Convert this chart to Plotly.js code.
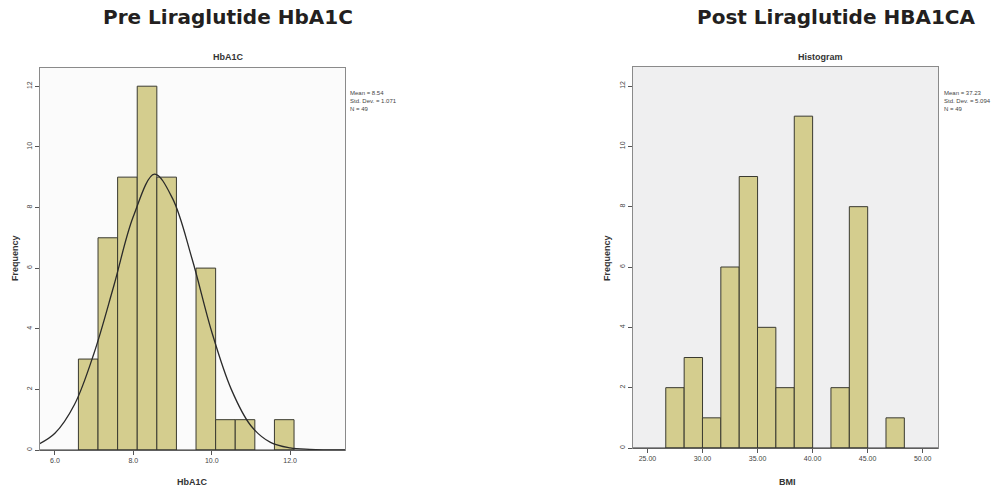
<!DOCTYPE html>
<html>
<head>
<meta charset="utf-8">
<script src="https://cdn.plot.ly/plotly-3.0.1.min.js"></script>
<style>html,body{margin:0;padding:0;background:#fff;}#chart{width:1008px;height:493px;}</style>
</head>
<body>
<div id="chart"></div>
<script>
// Pre Liraglutide HbA1C histogram (bin centres, width 0.5)
const preBinCenters = [6.85, 7.35, 7.85, 8.35, 8.85, 9.85, 10.35, 10.85, 11.85];
const preCounts     = [3, 7, 9, 12, 9, 6, 1, 1, 1];
const preBinWidth   = 0.5;
// Normal curve
const preCurveX = [5.6, 6.0, 6.5, 7.0, 7.5, 8.0, 8.54, 9.0, 9.5, 10.0, 10.5, 11.0, 11.5, 12.0, 12.5, 13.4];
const preCurveY = [0.2, 0.55, 1.5, 3.2, 5.4, 7.7, 9.1, 8.3, 6.3, 3.9, 2.0, 0.8, 0.25, 0.07, 0.02, 0.0];
const preStats  = ["Mean = 8.54", "Std. Dev. = 1.071", "N = 49"];

// Post Liraglutide histogram (BMI axis, bin width 5/3)
const postBinCenters = [27.5, 29.17, 30.83, 32.5, 34.17, 35.83, 37.5, 39.17, 42.5, 44.17, 47.5];
const postCounts     = [2, 3, 1, 6, 9, 4, 2, 11, 2, 8, 1];
const postBinWidth   = 5 / 3;
const postStats = ["Mean = 37.23", "Std. Dev. = 5.094", "N = 49"];

const yTicks = [0, 2, 4, 6, 8, 10, 12];
const preXTicks = [6, 8, 10, 12];
const postXTicks = [25, 30, 35, 40, 45, 50];

const barFill = '#d4cd8e';
const barLine = '#3a3a30';
const W = 1008, H = 493;
const px = v => v / W, py = v => 1 - v / H;

const traces = [
  {type: 'bar', x: preBinCenters, y: preCounts, width: preBinWidth,
   marker: {color: barFill, line: {color: barLine, width: 1}},
   xaxis: 'x', yaxis: 'y', hoverinfo: 'x+y'},
  {type: 'scatter', mode: 'lines', x: preCurveX, y: preCurveY,
   line: {color: '#2a2a2a', width: 1.3, shape: 'spline'},
   xaxis: 'x', yaxis: 'y', hoverinfo: 'skip'},
  {type: 'bar', x: postBinCenters, y: postCounts, width: postBinWidth,
   marker: {color: barFill, line: {color: barLine, width: 1}},
   xaxis: 'x2', yaxis: 'y2', hoverinfo: 'x+y'}
];

const tickFont = {family: 'Liberation Sans, Arial, sans-serif', size: 7, color: '#444'};
const axisCommon = {showline: true, mirror: true, linecolor: '#8a8a8a', linewidth: 1,
  ticks: 'outside', ticklen: 4, tickcolor: '#555', showgrid: false, zeroline: false,
  tickfont: tickFont, fixedrange: true};

const titleFont = {family: 'DejaVu Sans, sans-serif', size: 20, color: '#231f20'};
const smallBold = {family: 'Liberation Sans, Arial, sans-serif', size: 9, color: '#333'};

const layout = {
  width: W, height: H,
  margin: {l: 0, r: 0, t: 0, b: 0},
  paper_bgcolor: '#ffffff',
  showlegend: false,
  bargap: 0,
  xaxis: Object.assign({}, axisCommon, {domain: [px(40), px(345)], range: [5.62, 13.4],
    tickvals: preXTicks, ticktext: preXTicks.map(v => v.toFixed(1)), anchor: 'y'}),
  yaxis: Object.assign({}, axisCommon, {domain: [py(450), py(68)], range: [0, 12.6],
    tickvals: yTicks, tickangle: -90, anchor: 'x'}),
  xaxis2: Object.assign({}, axisCommon, {domain: [px(633), px(938)], range: [23.69, 51.39],
    tickvals: postXTicks, ticktext: postXTicks.map(v => v.toFixed(2)), anchor: 'y2'}),
  yaxis2: Object.assign({}, axisCommon, {domain: [py(448), py(67)], range: [0, 12.63],
    tickvals: yTicks, tickangle: -90, anchor: 'x2'}),
  plot_bgcolor: '#fbfbfb',
  shapes: [
    {type: 'rect', xref: 'paper', yref: 'paper', x0: px(633), x1: px(938), y0: py(448), y1: py(67),
     fillcolor: '#efeff0', line: {width: 0}, layer: 'below'},
    {type: 'line', xref: 'paper', yref: 'paper', x0: px(40), x1: px(345), y0: py(450), y1: py(450),
     line: {color: '#333', width: 1.2}},
    {type: 'line', xref: 'paper', yref: 'paper', x0: px(633), x1: px(938), y0: py(448), y1: py(448),
     line: {color: '#333', width: 1.2}}
  ],
  annotations: [
    {text: '<b>Pre Liraglutide HbA1C</b>', xref: 'paper', yref: 'paper', x: px(228), y: py(17),
     showarrow: false, xanchor: 'center', yanchor: 'middle', font: titleFont},
    {text: '<b>Post Liraglutide HBA1CA</b>', xref: 'paper', yref: 'paper', x: px(836), y: py(17),
     showarrow: false, xanchor: 'center', yanchor: 'middle', font: titleFont},
    {text: '<b>HbA1C</b>', xref: 'paper', yref: 'paper', x: px(228), y: py(57),
     showarrow: false, xanchor: 'center', yanchor: 'middle', font: smallBold},
    {text: '<b>Histogram</b>', xref: 'paper', yref: 'paper', x: px(820), y: py(57),
     showarrow: false, xanchor: 'center', yanchor: 'middle', font: smallBold},
    {text: '<b>HbA1C</b>', xref: 'paper', yref: 'paper', x: px(192), y: py(482),
     showarrow: false, xanchor: 'center', yanchor: 'middle', font: smallBold},
    {text: '<b>BMI</b>', xref: 'paper', yref: 'paper', x: px(787), y: py(482),
     showarrow: false, xanchor: 'center', yanchor: 'middle', font: smallBold},
    {text: '<b>Frequency</b>', xref: 'paper', yref: 'paper', x: px(15), y: py(258),
     showarrow: false, xanchor: 'center', yanchor: 'middle', textangle: -90, font: smallBold},
    {text: '<b>Frequency</b>', xref: 'paper', yref: 'paper', x: px(607), y: py(258),
     showarrow: false, xanchor: 'center', yanchor: 'middle', textangle: -90, font: smallBold},
    {text: preStats.join('<br>'), xref: 'paper', yref: 'paper', x: px(348), y: py(88),
     showarrow: false, xanchor: 'left', yanchor: 'top', align: 'left',
     font: {family: 'Liberation Sans, Arial, sans-serif', size: 6, color: '#444'}},
    {text: postStats.join('<br>'), xref: 'paper', yref: 'paper', x: px(942), y: py(88),
     showarrow: false, xanchor: 'left', yanchor: 'top', align: 'left',
     font: {family: 'Liberation Sans, Arial, sans-serif', size: 6, color: '#444'}}
  ]
};

Plotly.newPlot('chart', traces, layout, {displayModeBar: false, staticPlot: true});
</script>
</body>
</html>
